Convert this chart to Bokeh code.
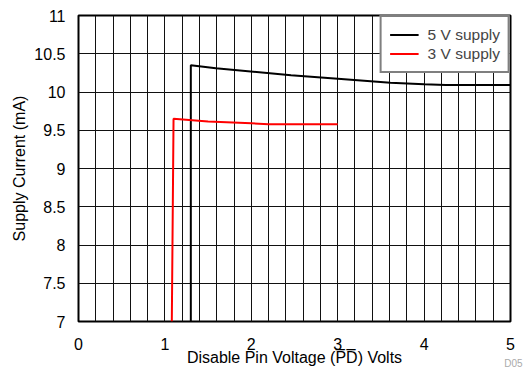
from bokeh.plotting import figure
from bokeh.models import (Range1d, SingleIntervalTicker, Title, Legend, LegendItem)
from bokeh.embed import file_html
from bokeh.resources import INLINE

# Data
v5_x = [1.30, 1.30, 1.59, 2.46, 3.04, 3.61, 4.00, 4.25, 5.00]
v5_y = [7.00, 10.35, 10.31, 10.22, 10.17, 10.12, 10.10, 10.09, 10.09]
v3_x = [1.08, 1.10, 1.50, 2.00, 2.20, 3.00]
v3_y = [7.00, 9.65, 9.615, 9.59, 9.58, 9.58]
series_names = ["5 V supply", "3 V supply"]
x_label = "Disable Pin Voltage (P\u0305D\u0305) Volts"
y_label = "Supply Current (mA)"
note = "D05"

FONT = "Liberation Sans"
FS = "16px"

p = figure(width=527, height=368, output_backend="svg", toolbar_location=None,
           x_range=Range1d(0, 5), y_range=Range1d(7, 11),
           min_border_left=78, min_border_right=17, min_border_top=15, min_border_bottom=46)
p.background_fill_color = "white"
p.border_fill_color = "white"
p.outline_line_color = "black"
p.outline_line_width = 2

p.xaxis.ticker = SingleIntervalTicker(interval=1, num_minor_ticks=5)
p.yaxis.ticker = SingleIntervalTicker(interval=0.5, num_minor_ticks=0)
for ax in (p.xaxis[0], p.yaxis[0]):
    ax.axis_line_color = None
    ax.major_tick_line_color = None
    ax.minor_tick_line_color = None
    ax.major_label_text_font = FONT
    ax.major_label_text_font_size = FS
    ax.major_label_text_color = "black"
    ax.axis_label_text_font = FONT
    ax.axis_label_text_font_size = FS
    ax.axis_label_text_font_style = "normal"
    ax.axis_label_text_color = "black"
p.xaxis.major_label_standoff = 10
p.yaxis.major_label_standoff = 7
p.xaxis.axis_label = x_label
p.yaxis.axis_label = y_label
p.xaxis.axis_label_standoff = -4
p.yaxis.axis_label_standoff = 3

p.xgrid.grid_line_color = "#111111"
p.xgrid.grid_line_width = 1
p.xgrid.minor_grid_line_color = "#111111"
p.xgrid.minor_grid_line_width = 1
p.ygrid.grid_line_color = "#111111"
p.ygrid.grid_line_width = 1

r5 = p.line(v5_x, v5_y, line_color="black", line_width=2)
r3 = p.line(v3_x, v3_y, line_color="#ff0000", line_width=2)

legend = Legend(items=[LegendItem(label=series_names[0], renderers=[r5]),
                       LegendItem(label=series_names[1], renderers=[r3])],
                location="top_right", margin=0, padding=8, spacing=0,
                glyph_width=29, glyph_height=19, label_height=19, label_standoff=9,
                label_text_font=FONT, label_text_font_size="15.5px",
                border_line_color="black", border_line_width=2,
                background_fill_color="white", background_fill_alpha=1)
p.add_layout(legend)

p.add_layout(Title(text=note, align="right", vertical_align="top", text_font=FONT,
                   text_font_size="10px", text_font_style="normal", text_color="#aaaaaa",
                   standoff=-22, offset=-12), "below")

open("out.html", "w").write(file_html(p, INLINE))
